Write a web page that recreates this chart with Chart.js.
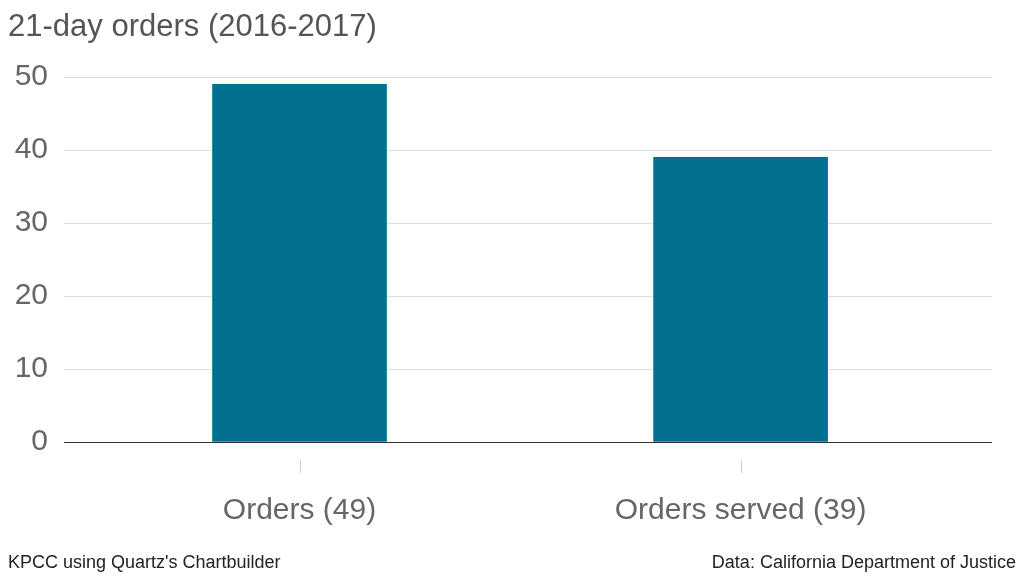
<!DOCTYPE html>
<html><head><meta charset="utf-8">
<script src="https://cdn.jsdelivr.net/npm/chart.js@4"></script>
<style>
body{margin:0;background:#fff;font-family:"Liberation Sans",Arial,sans-serif;}
#wrap{position:relative;width:1024px;height:576px;}
#title{position:absolute;left:8px;top:8px;font-size:31px;color:#555;}
.foot{position:absolute;top:552px;font-size:18px;color:#222;}
</style></head><body>
<div id="wrap">
<canvas id="c" width="1024" height="576"></canvas>
<div id="title">21-day orders (2016-2017)</div>
<div class="foot" style="left:8px">KPCC using Quartz's Chartbuilder</div>
<div class="foot" style="right:8px">Data: California Department of Justice</div>
</div>
<script>
const categories = ["Orders (49)", "Orders served (39)"];
const values = [49, 39];
const yTicks = [0, 10, 20, 30, 40, 50];

const tickMarks = {
  id: 'tickMarks',
  afterDraw(chart) {
    const ctx = chart.ctx, x = chart.scales.x;
    ctx.save(); ctx.strokeStyle = '#ccc'; ctx.lineWidth = 1;
    categories.forEach((c, i) => {
      const px = Math.round(x.getPixelForValue(i)) + 0.5;
      ctx.beginPath(); ctx.moveTo(px, 460); ctx.lineTo(px, 473); ctx.stroke();
    });
    ctx.restore();
  }
};

new Chart(document.getElementById('c'), {
  type: 'bar',
  data: { datasets: [{ data: categories.map((c, i) => ({ x: i, y: values[i] })), backgroundColor: '#00718f', barThickness: 174 }] },
  options: {
    responsive: false, animation: false,
    layout: { padding: { top: 77, right: 32, bottom: 0, left: 0 } },
    plugins: { legend: { display: false }, tooltip: { enabled: false } },
    scales: {
      y: {
        min: 0, max: 50,
        afterBuildTicks: s => { s.ticks = yTicks.map(v => ({ value: v })); },
        afterFit: s => { s.width = 64; },
        grid: { color: ctx => ctx.tick.value === 0 ? '#333' : '#ddd', tickLength: 0, drawTicks: false },
        border: { display: false },
        ticks: { color: '#666', font: { family: 'Liberation Sans', size: 30 }, padding: 16 }
      },
      x: {
        type: 'linear', min: -0.534, max: 1.57, offset: false,
        afterBuildTicks: s => { s.ticks = categories.map((c, i) => ({ value: i })); },
        afterFit: s => { s.height = 134; },
        grid: { display: false },
        border: { display: false },
        ticks: { color: '#666', font: { family: 'Liberation Sans', size: 30 }, padding: 43, callback: v => categories[v] }
      }
    }
  },
  plugins: [tickMarks]
});
</script>
</body></html>
